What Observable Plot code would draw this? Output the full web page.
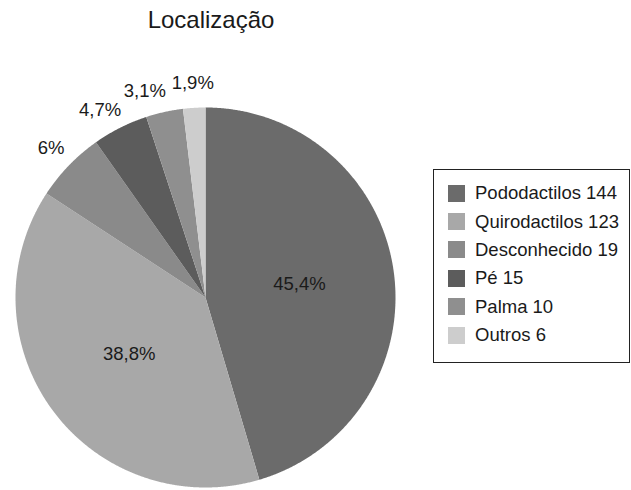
<!DOCTYPE html>
<html><head><meta charset="utf-8">
<script src="https://cdn.jsdelivr.net/npm/d3@7"></script>
<script src="https://cdn.jsdelivr.net/npm/@observablehq/plot@0.6"></script>
<style>
body{margin:0;background:#fff;font-family:"Liberation Sans",Arial,sans-serif;}
#wrap{position:relative;width:631px;height:490px;overflow:hidden;}
#title{position:absolute;left:0;width:422px;top:6px;text-align:center;font-size:24px;color:#1a1a1a;line-height:28px;}
#legend{position:absolute;left:433px;top:169px;width:197px;height:194px;border:1.5px solid #222;box-sizing:border-box;padding-top:9px;}
.row{display:flex;align-items:center;height:28.4px;padding-left:14px;font-size:18.5px;color:#1a1a1a;}
.sw{width:17px;height:17px;margin-right:10px;flex:none;}
</style></head>
<body><div id="wrap"><div id="title">Localização</div><div id="chart"></div><div id="legend"></div></div>
<script>
const title = "Localização";
const categories = ["Pododactilos", "Quirodactilos", "Desconhecido", "Pé", "Palma", "Outros"];
const counts = [144, 123, 19, 15, 10, 6];
const percentLabels = ["45,4%", "38,8%", "6%", "4,7%", "3,1%", "1,9%"];
const colors = ["#6b6b6b", "#a8a8a8", "#8a8a8a", "#5c5c5c", "#8f8f8f", "#cdcdcd"];

document.getElementById("title").textContent = title;

const total = d3.sum(counts);
const arcs = d3.pie().sort(null).value(d => d)(counts);

// polygon points for each slice (unit circle, angle clockwise from top)
const piePts = [];
arcs.forEach((a, i) => {
  const name = categories[i];
  piePts.push({name, x: 0, y: 0});
  const n = Math.max(2, Math.ceil((a.endAngle - a.startAngle) / 0.005));
  for (let k = 0; k <= n; k++) {
    const t = a.startAngle + (a.endAngle - a.startAngle) * k / n;
    piePts.push({name, x: Math.sin(t), y: Math.cos(t)});
  }
  piePts.push({name, x: 0, y: 0});
});

// label angles: outside labels spread apart to avoid collisions
const minSep = 13 * Math.PI / 180;
const labels = [];
let prevAngle = Infinity;
for (let i = arcs.length - 1; i >= 0; i--) {
  const a = arcs[i];
  const mid = (a.startAngle + a.endAngle) / 2;
  const inside = counts[i] / total > 0.1;
  let ang = mid, r = 0.5;
  if (!inside) {
    r = 1.13;
    ang = Math.min(mid, prevAngle - minSep);
    prevAngle = ang;
  }
  labels.push({text: percentLabels[i], x: r * Math.sin(ang), y: r * Math.cos(ang)});
}

const plot = Plot.plot({
  width: 631,
  height: 490,
  margin: 0,
  style: {fontFamily: "'Liberation Sans', Arial, sans-serif", background: "transparent"},
  x: {domain: [-1, 1], range: [15, 395], axis: null},
  y: {domain: [-1, 1], range: [487, 107], axis: null},
  color: {domain: categories, range: colors},
  marks: [
    Plot.line(piePts, {x: "x", y: "y", z: "name", fill: "name", stroke: "none", curve: "linear"}),
    Plot.text(labels, {x: "x", y: "y", text: "text", fontSize: 18.5, fill: "#1a1a1a"})
  ]
});
document.getElementById("chart").appendChild(plot);

const color = plot.scale("color");
const legend = d3.select("#legend");
categories.forEach((c, i) => {
  const row = legend.append("div").attr("class", "row");
  row.append("div").attr("class", "sw").style("background", color.apply(c));
  row.append("span").text(c + " " + counts[i]);
});
</script></body></html>
